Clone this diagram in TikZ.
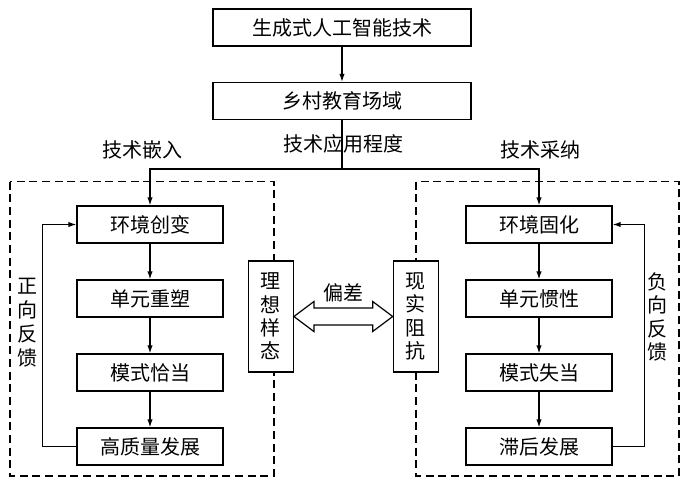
\documentclass[tikz,border=0pt]{standalone}
\usepackage{fontspec}
\setmainfont{Noto Sans CJK SC}
\usetikzlibrary{arrows.meta,calc}
\tikzset{
  box/.style={draw, line width=0.9pt, fill=white, minimum width=109.5pt, minimum height=27.75pt, inner sep=0pt, font=\fontsize{15}{18}\selectfont},
  bigbox/.style={box, minimum width=193.5pt},
  sidebox/.style={box, minimum width=33.75pt, minimum height=83.25pt, align=center, font=\fontsize{15}{17.5}\selectfont},
  lbl/.style={inner sep=0pt, font=\fontsize{15}{18}\selectfont, align=center},
  conn/.style={line width=0.9pt},
  arr/.style={conn, -{Latex[length=6pt,width=4pt]}},
  dbox/.style={line width=0.9pt, dash pattern=on 6pt off 3.5pt}
}
\begin{document}
\begin{tikzpicture}[x=0.75pt,y=-0.75pt]
\useasboundingbox (0,0) rectangle (681,480);
% dashed frames
\draw[dbox] (10,181.7) rectangle (274,476);
\draw[dbox] (416,181.7) rectangle (679,476);
% top
\node[bigbox] (top) at (342,27.5) {生成式人工智能技术};
\node[bigbox] (rural) at (342,101) {乡村教育场域};
% left column
\node[box] (L1) at (150,224.5) {环境创变};
\node[box] (L2) at (150,298.5) {单元重塑};
\node[box] (L3) at (150,372.5) {模式恰当};
\node[box] (L4) at (150,446.5) {高质量发展};
% right column
\node[box] (R1) at (539,224.5) {环境固化};
\node[box] (R2) at (539,298.5) {单元惯性};
\node[box] (R3) at (539,372.5) {模式失当};
\node[box] (R4) at (539,446.5) {滞后发展};
% side boxes
\node[sidebox] (ideal) at (270.8,316.5) {理\\想\\样\\态};
\node[sidebox] (real) at (415.8,316.5) {现\\实\\阻\\抗};
% labels
\node[lbl] (lembed) at (142,150) {技术嵌入};
\node[lbl] (lapply) at (343,144) {技术应用程度};
\node[lbl] (ladopt) at (540,150) {技术采纳};
\node[lbl] (ldev) at (343,293) {偏差};
\node[lbl, font=\fontsize{15}{18}\selectfont] (lpos) at (27,323) {正\\向\\反\\馈};
\node[lbl, font=\fontsize{15}{17.5}\selectfont] (lneg) at (657,317) {负\\向\\反\\馈};
% connectors
\coordinate (split) at (342,169);
\draw[arr] (top) -- (rural);
\draw[conn] (rural.south) -- (split);
\draw[arr] (split) -| (L1.north);
\draw[arr] (split) -| (R1.north);
\draw[arr] (L1) -- (L2);
\draw[arr] (L2) -- (L3);
\draw[arr] (L3) -- (L4);
\draw[arr] (R1) -- (R2);
\draw[arr] (R2) -- (R3);
\draw[arr] (R3) -- (R4);
\draw[arr] (L4.west) -- ++(-34,0) |- (L1.west);
\draw[arr] (R4.east) -- ++(32,0) |- (R1.east);
% hollow double arrow
\draw[conn, line join=miter] (ideal.east) -- ++(20,-15) -- ++(0,6.5)
  -- ($(real.west)+(-20,-8.5)$) -- ++(0,-6.5) -- (real.west)
  -- ++(-20,15) -- ++(0,-6.5) -- ($(ideal.east)+(20,8.5)$) -- ++(0,6.5) -- cycle;
\end{tikzpicture}
\end{document}
